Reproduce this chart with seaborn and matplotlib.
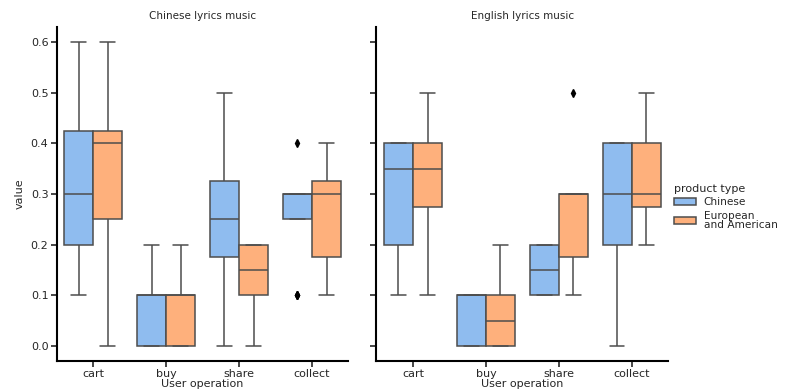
import numpy as np
import pandas as pd
import matplotlib
matplotlib.use("Agg")
import matplotlib.pyplot as plt
from matplotlib.patches import Patch
import seaborn as sns

# Category labels
operations = ["cart", "buy", "share", "collect"]
product_types = ["Chinese", "European\nand American"]
lyrics_types = ["Chinese lyrics music", "English lyrics music"]

# Observed rates per (lyrics type, operation, product type)
cl_cart_cn = [0.1, 0.1, 0.2, 0.2, 0.3, 0.3, 0.3, 0.4, 0.4, 0.5, 0.5, 0.6]
cl_cart_ea = [0.0, 0.1, 0.1, 0.3, 0.4, 0.4, 0.4, 0.4, 0.4, 0.5, 0.6, 0.6]
cl_buy_cn = [0.0, 0.0, 0.0, 0.0, 0.0, 0.1, 0.1, 0.1, 0.1, 0.1, 0.2, 0.2]
cl_buy_ea = [0.0, 0.0, 0.0, 0.0, 0.0, 0.1, 0.1, 0.1, 0.1, 0.1, 0.2, 0.2]
cl_share_cn = [0.0, 0.1, 0.1, 0.2, 0.2, 0.2, 0.3, 0.3, 0.3, 0.4, 0.4, 0.5]
cl_share_ea = [0.0, 0.1, 0.1, 0.1, 0.1, 0.1, 0.2, 0.2, 0.2, 0.2, 0.2, 0.2]
cl_collect_cn = [0.1, 0.1, 0.1, 0.3, 0.3, 0.3, 0.3, 0.3, 0.3, 0.3, 0.3, 0.4]
cl_collect_ea = [0.1, 0.1, 0.1, 0.2, 0.2, 0.3, 0.3, 0.3, 0.3, 0.4, 0.4, 0.4]

el_cart_cn = [0.1, 0.1, 0.2, 0.2, 0.3, 0.3, 0.4, 0.4, 0.4, 0.4, 0.4, 0.4]
el_cart_ea = [0.1, 0.2, 0.2, 0.3, 0.3, 0.3, 0.4, 0.4, 0.4, 0.4, 0.5, 0.5]
el_buy_cn = [0.0, 0.0, 0.0, 0.0, 0.0, 0.1, 0.1, 0.1, 0.1, 0.1, 0.1, 0.1]
el_buy_ea = [0.0, 0.0, 0.0, 0.0, 0.0, 0.0, 0.1, 0.1, 0.1, 0.1, 0.2, 0.2]
el_share_cn = [0.1, 0.1, 0.1, 0.1, 0.1, 0.1, 0.2, 0.2, 0.2, 0.2, 0.2, 0.2]
el_share_ea = [0.1, 0.1, 0.1, 0.2, 0.3, 0.3, 0.3, 0.3, 0.3, 0.3, 0.3, 0.5]
el_collect_cn = [0.0, 0.1, 0.2, 0.2, 0.3, 0.3, 0.3, 0.4, 0.4, 0.4, 0.4, 0.4]
el_collect_ea = [0.2, 0.2, 0.2, 0.3, 0.3, 0.3, 0.3, 0.4, 0.4, 0.4, 0.5, 0.5]

groups = {
    (lyrics_types[0], "cart"): (cl_cart_cn, cl_cart_ea),
    (lyrics_types[0], "buy"): (cl_buy_cn, cl_buy_ea),
    (lyrics_types[0], "share"): (cl_share_cn, cl_share_ea),
    (lyrics_types[0], "collect"): (cl_collect_cn, cl_collect_ea),
    (lyrics_types[1], "cart"): (el_cart_cn, el_cart_ea),
    (lyrics_types[1], "buy"): (el_buy_cn, el_buy_ea),
    (lyrics_types[1], "share"): (el_share_cn, el_share_ea),
    (lyrics_types[1], "collect"): (el_collect_cn, el_collect_ea),
}

rows = []
for (lyr, op), series in groups.items():
    for ptype, vals in zip(product_types, series):
        for v in vals:
            rows.append({"lyrics": lyr, "User operation": op,
                         "product type": ptype, "value": v})
df = pd.DataFrame(rows)

sns.set_theme(style="ticks")
plt.rcParams["font.family"] = ["DejaVu Sans"]
plt.rcParams["font.size"] = 7.5

colors = ["#8fbcef", "#feb07c"]
palette = dict(zip(product_types, colors))
edge = "0.3"

g = sns.catplot(
    data=df, kind="box", x="User operation", y="value",
    hue="product type", col="lyrics",
    order=operations, hue_order=product_types, col_order=lyrics_types,
    palette=palette, saturation=1, height=3.9, aspect=1.0,
    width=0.8, gap=0, linecolor=edge, linewidth=1.1,
    flierprops=dict(marker="d", markerfacecolor="black",
                    markeredgecolor="black", markersize=4),
    legend=False,
)
g.figure.set_size_inches(7.88, 3.9)
g.set_titles("{col_name}", size=7.5)
g.set_axis_labels("User operation", "value", fontsize=8)
for ax in g.axes.flat:
    ax.tick_params(labelsize=8, width=1.2, length=4, pad=2)
    ax.set_ylim(-0.03, 0.63)
    ax.set_yticks([0.0, 0.1, 0.2, 0.3, 0.4, 0.5, 0.6])
    ax.xaxis.labelpad = 0
    for sp in ax.spines.values():
        sp.set_linewidth(1.5)
        sp.set_color("black")

g.figure.subplots_adjust(left=0.072, right=0.848, bottom=0.074,
                         top=0.931, wspace=0.096)

handles = [Patch(facecolor=c, edgecolor=edge, linewidth=1.1) for c in colors]
leg = g.figure.legend(
    handles, product_types, title="product type", loc="center left",
    bbox_to_anchor=(0.846, 0.47), frameon=False, fontsize=7.6,
    title_fontsize=8, handlelength=2.1, handleheight=0.55,
    handletextpad=0.7, labelspacing=0.35, borderaxespad=0.3,
)
leg._legend_box.align = "left"
for t in leg.texts:
    t.set_linespacing(0.85)

g.figure.savefig("out.png", dpi=100)
